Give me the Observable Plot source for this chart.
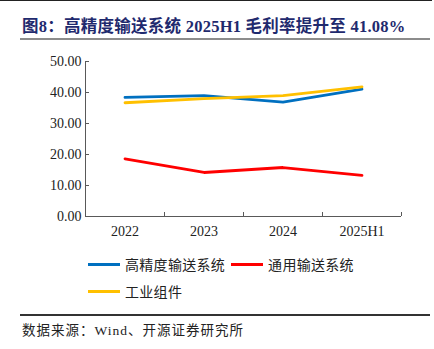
<!DOCTYPE html>
<html><head><meta charset="utf-8">
<script src="https://cdn.jsdelivr.net/npm/d3@7"></script>
<script src="https://cdn.jsdelivr.net/npm/@observablehq/plot@0.6"></script>
<style>
html,body{margin:0;padding:0;background:#fff;}
#wrap{position:relative;width:434px;height:349px;overflow:hidden;font-family:"Liberation Serif","Noto Sans CJK SC",serif;}
.abs{position:absolute;}
#topline{left:0;top:0;width:432px;height:1px;background:#222;}
#title{left:22px;top:13px;font-size:16.5px;letter-spacing:0.25px;font-weight:bold;color:#1F2A6E;white-space:nowrap;}
#tline{left:20px;top:38px;width:410px;height:2px;background:#8c8c8c;}
#chart{left:0;top:45px;}
.leg{display:flex;align-items:center;font-size:14px;color:#222;white-space:nowrap;letter-spacing:0.3px;}
.sw{display:inline-block;width:32px;height:3px;margin-right:5px;}
#fline{left:20px;top:314px;width:410px;height:1.5px;background:#333;}
#foot{left:22px;top:319px;font-size:13.5px;letter-spacing:1px;color:#222;white-space:nowrap;}
</style></head>
<body><div id="wrap">
<div class="abs" id="topline"></div>
<div class="abs" id="title">图8：高精度输送系统 2025H1 毛利率提升至 41.08%</div>
<div class="abs" id="tline"></div>
<div class="abs" id="chart"></div>
<div class="abs" id="legend"></div>
<div class="abs" id="fline"></div>
<div class="abs" id="foot">数据来源：Wind、开源证券研究所</div>
</div>
<script>
const categories = ["2022", "2023", "2024", "2025H1"];
const seriesNames = ["高精度输送系统", "通用输送系统", "工业组件"];
const seriesColors = ["#0070C0", "#FF0000", "#FFC000"];
const highPrecision = [38.4, 39.0, 36.9, 41.08];
const general = [18.6, 14.2, 15.8, 13.3];
const industrial = [36.7, 38.0, 39.0, 41.8];
const yTicks = [0, 10, 20, 30, 40, 50];

const seriesValues = [highPrecision, general, industrial];
const data = [];
seriesValues.forEach((vals, s) => vals.forEach((v, i) => data.push({series: seriesNames[s], i, cat: categories[i], v})));

const n = categories.length;
const chart = Plot.plot({
  width: 434, height: 200,
  marginLeft: 85, marginRight: 33, marginTop: 16, marginBottom: 29,
  style: {fontFamily: "Liberation Serif, serif", fontSize: "14px", color: "#222", background: "transparent"},
  x: {domain: [0, n], axis: null},
  y: {domain: [0, 50], axis: null},
  color: {domain: seriesNames, range: seriesColors},
  marks: [
    Plot.axisY({ticks: yTicks, tickFormat: d => d.toFixed(2), tickSize: -4, tickPadding: 8, stroke: "#595959", label: null, fontSize: 14}),
    Plot.axisX({ticks: d3.range(1, n + 1), tickFormat: () => "", tickSize: -4, stroke: "#595959", label: null}),
    Plot.axisX({ticks: categories.map((c, i) => i + 0.5), tickFormat: d => categories[Math.floor(d)], tickSize: 0, tickPadding: 10, label: null, fontSize: 14}),
    Plot.ruleY([0], {stroke: "#595959", strokeWidth: 1}),
    Plot.ruleX([0], {stroke: "#595959", strokeWidth: 1}),
    Plot.line(data, {x: d => d.i + 0.5, y: "v", z: "series", stroke: "series", strokeWidth: 2.8, strokeLinejoin: "miter"})
  ]
});
document.getElementById("chart").appendChild(chart);

const legend = document.getElementById("legend");
legend.style.left = "88px"; legend.style.top = "254px";
const rows = [[0, 1], [2]];
rows.forEach((r, ri) => {
  const row = document.createElement("div");
  row.className = "leg";
  row.style.height = "20px";
  row.style.marginBottom = ri === 0 ? "7px" : "0";
  r.forEach((s, k) => {
    const sw = document.createElement("span");
    sw.className = "sw"; sw.style.background = seriesColors[s];
    if (k > 0) sw.style.marginLeft = "6px";
    const t = document.createElement("span");
    t.textContent = seriesNames[s];
    t.style.fontFamily = "Noto Sans CJK SC, sans-serif";
    row.appendChild(sw); row.appendChild(t);
  });
  legend.appendChild(row);
});
</script></body></html>
